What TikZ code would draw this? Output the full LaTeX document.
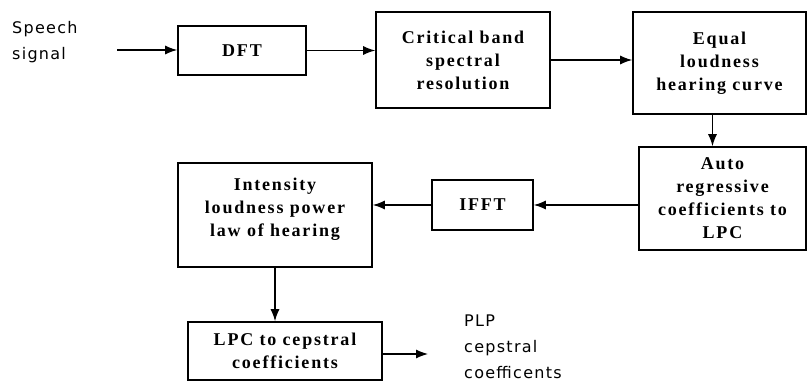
\documentclass[tikz,border=0pt]{standalone}
\usepackage{fontspec}
\usepackage{tikz}
\usetikzlibrary{arrows.meta}
\setmainfont{Liberation Serif}
\newfontfamily\blockfont[LetterSpace=10]{Liberation Serif}
\newfontfamily\sigfont[LetterSpace=8]{DejaVu Sans}
\begin{document}
\begin{tikzpicture}[x=1pt,y=-1pt,>={Latex[length=12pt,width=9pt]},
  block/.style={draw,line width=1.6pt,align=center,inner sep=2pt,
    font=\blockfont\bfseries\fontsize{18}{23}\selectfont},
  flow/.style={->,line width=1.2pt},
  sigtext/.style={align=left,inner sep=0pt,font=\sigfont\fontsize{16}{26}\selectfont}]
\useasboundingbox (0,0) rectangle (807,382);

% blocks
\node[block,minimum width=128pt,minimum height=49pt] (dft) at (242,50.5) {DFT};
\node[block,minimum width=174pt,minimum height=96pt] (crit) at (463,60) {Critical band\\spectral\\resolution};
\node[block,minimum width=173pt,minimum height=102pt] (equal) at (719.5,63) {Equal\\loudness\\hearing curve};
\node[block,minimum width=167pt,minimum height=103pt] (auto) at (722.5,198.5) {Auto\\regressive\\coefficients to\\LPC};
\node[block,minimum width=101pt,minimum height=50pt] (ifft) at (482.5,205) {IFFT};
\node[block,minimum width=194pt,minimum height=104pt] (inten) at (275,215) {Intensity\\loudness power\\law of hearing\\[-8pt]};
\node[block,minimum width=194pt,minimum height=58pt] (lpc) at (285,351) {LPC to cepstral\\coefficients};

% input and output
\node[sigtext,anchor=west] (speech) at (12,42.5) {Speech\\signal};
\node[sigtext,anchor=west] (plp) at (464,347) {PLP\\cepstral\\coefficents};
\coordinate (in) at (117,50);
\coordinate (out) at (428,354);

\draw[flow] (in) -- (in -| dft.west);
\draw[flow] (dft.east) -- (dft.east -| crit.west);
\draw[flow] (crit.east) -- (crit.east -| equal.west);
\draw[flow] ([xshift=-7pt]equal.south) -- ([xshift=-7pt]equal.south |- auto.north);
\draw[flow] (auto.west |- ifft.east) -- (ifft.east);
\draw[flow] (ifft.west) -- (ifft.west -| inten.east);
\draw[flow] (inten.south) -- (inten.south |- lpc.north);
\draw[flow] (lpc.east |- out) -- (out);
\end{tikzpicture}
\end{document}
